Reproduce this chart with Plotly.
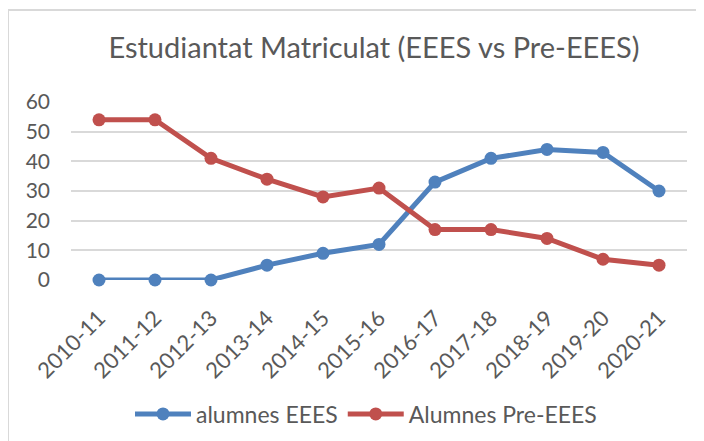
import plotly.graph_objects as go

categories = ["2010-11", "2011-12", "2012-13", "2013-14", "2014-15", "2015-16",
              "2016-17", "2017-18", "2018-19", "2019-20", "2020-21"]
eees = [0, 0, 0, 5, 9, 12, 33, 41, 44, 43, 30]
pre_eees = [54, 54, 41, 34, 28, 31, 17, 17, 14, 7, 5]

W, H = 704, 441
OFF = 8  # default page body margin shifts the figure by 8px
# target plot area in screenshot pixels: x 71..687, y 102..280
L, T = 71 - OFF, 102 - OFF
R = W - (687 - OFF)
B = H - (280 - OFF)
pw, ph = W - L - R, H - T - B

def px_x(px):
    return (px - OFF - L) / pw

def px_y(py):
    return (H - B - (py - OFF)) / ph

FONT = "Lato, Open Sans, sans-serif"
GREY = "#595959"

fig = go.Figure()
fig.add_trace(go.Scatter(x=categories, y=eees, name="alumnes EEES", mode="lines+markers",
                         line=dict(color="#4f81bd", width=5),
                         marker=dict(color="#4f81bd", size=13), cliponaxis=False))
fig.add_trace(go.Scatter(x=categories, y=pre_eees, name="Alumnes Pre-EEES", mode="lines+markers",
                         line=dict(color="#c0504d", width=5),
                         marker=dict(color="#c0504d", size=13), cliponaxis=False))

fig.update_layout(
    width=W, height=H,
    margin=dict(l=L, r=R, t=T, b=B, autoexpand=False),
    paper_bgcolor="white", plot_bgcolor="white",
    font=dict(family=FONT, color=GREY),
    title=dict(text="Estudiantat Matriculat (EEES vs Pre-EEES)", x=(374 - OFF) / W, xanchor="center",
               y=1 - (48 - OFF) / H, yanchor="middle",
               font=dict(family=FONT, size=29, color=GREY)),
    xaxis=dict(type="category", range=[-0.5, len(categories) - 0.5],
               showgrid=False, showline=False, ticks="", automargin=False,
               tickangle=-45, tickfont=dict(family=FONT, size=22, color=GREY),
               ticklabelstandoff=20),
    yaxis=dict(range=[0, 60], dtick=10, showgrid=True, gridcolor="#d9d9d9", gridwidth=1.5,
               zeroline=False, showline=False, ticks="", automargin=False,
               tickfont=dict(family=FONT, size=21, color=GREY), ticklabelstandoff=20),
    legend=dict(orientation="h", x=(366 - OFF) / W, xanchor="center", y=1 - (414 - OFF) / H,
                yanchor="middle", xref="container", yref="container", itemwidth=56,
                font=dict(family=FONT, size=23, color=GREY)),
    showlegend=True,
)

fig.add_shape(type="rect", xref="paper", yref="paper",
              x0=px_x(8), x1=px_x(730), y0=px_y(470), y1=px_y(10),
              line=dict(color="#d9d9d9", width=2), fillcolor="rgba(0,0,0,0)", layer="below")

fig.write_html("out.html")
